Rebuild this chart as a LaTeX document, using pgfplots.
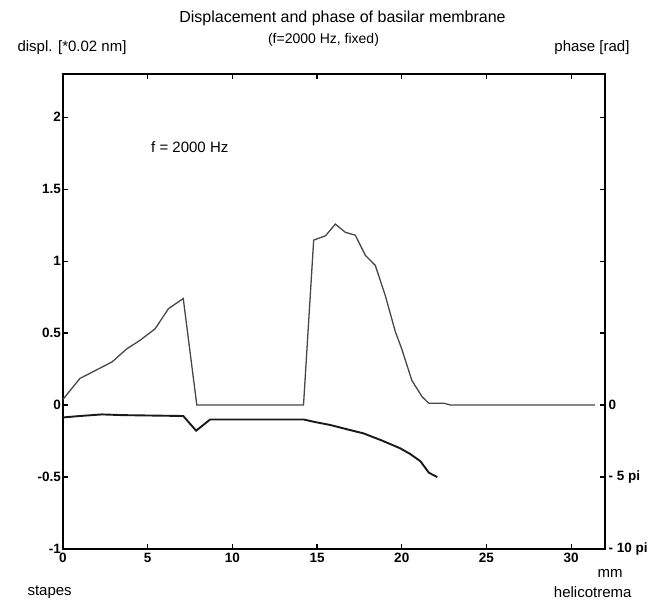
\documentclass[border=0pt]{standalone}
\usepackage{fontspec}
\setmainfont{Liberation Sans}
\usepackage{pgfplots}
\pgfplotsset{compat=1.18}

\newcommand{\lbl}{\fontsize{15}{18}\selectfont}
\newcommand{\tlbl}{\fontsize{13.5}{16}\selectfont\bfseries}

\begin{document}
\begin{tikzpicture}
% left axis: displacement
\begin{axis}[
    name=main,
    scale only axis,
    width=542pt, height=475pt,
    xmin=0, xmax=32,
    ymin=-1, ymax=2.3,
    xtick={0,5,10,15,20,25,30},
    xticklabels={0,5,10,15,20,25,30},
    ytick={-1,-0.5,0,0.5,1,1.5,2},
    yticklabels={-1,-0.5,0,0.5,1,1.5,2},
    xtick pos=both, ytick pos=both,
    tick align=inside,
    major tick length=5pt,
    tick style={black, line width=1.2pt},
    axis line style={black, line width=1.8pt},
    ticklabel style={font=\tlbl},
    yticklabel style={xshift=1.5pt},
    xticklabel style={yshift=-1pt},
    clip=false,
]
\addplot[color=black!72, line width=1.3pt] coordinates {
    (0,0.04) (1.0,0.185) (2.9,0.30) (3.76,0.39) (4.55,0.45) (5.44,0.53)
    (6.23,0.67) (7.1,0.74) (7.9,0) (14.2,0) (14.8,1.146) (15.5,1.176)
    (16.08,1.257) (16.67,1.20) (17.26,1.18) (17.85,1.04) (18.44,0.97)
    (19.03,0.76) (19.62,0.51) (20.0,0.39) (20.6,0.17) (21.2,0.058)
    (21.6,0.012) (22.5,0.012) (22.9,0) (31.4,0)
};
\addplot[color=black!90, line width=1.9pt] coordinates {
    (0,-0.086) (1,-0.076) (2.3,-0.065) (3.55,-0.07) (7.1,-0.076)
    (7.86,-0.178) (8.69,-0.1) (14.2,-0.1) (14.8,-0.116) (15.8,-0.139)
    (16.96,-0.174) (17.75,-0.197) (18.8,-0.245) (19.9,-0.30) (20.5,-0.34)
    (21.1,-0.39) (21.6,-0.47) (22.1,-0.50)
};
\node[anchor=west, font=\lbl] at (axis cs:5.0,1.79) {f = 2000 Hz};
\end{axis}

% right axis: phase
\begin{axis}[
    scale only axis,
    width=542pt, height=475pt,
    xmin=0, xmax=32,
    ymin=-1, ymax=2.3,
    hide x axis,
    axis y line*=right,
    ytick={-1,-0.5,0},
    yticklabels={- 10 pi,- 5 pi,0},
    tick align=inside,
    major tick length=5pt,
    tick style={black, line width=1.2pt},
    axis line style={black, line width=1.8pt, -},
    ticklabel style={font=\tlbl},
]
\end{axis}

% titles and side labels (origin = lower left corner of the axis box)
\node[font=\fontsize{16}{19}\selectfont] at (279.5pt,531pt) {Displacement and phase of basilar membrane};
\node[font=\fontsize{14}{17}\selectfont] at (260.5pt,509pt) {(f=2000 Hz, fixed)};
\node[anchor=west, font=\lbl] at (-49pt,501pt) {displ. [*0.02 nm]};
\node[anchor=east, font=\lbl] at (570pt,501pt) {phase [rad]};
\node[anchor=west, font=\lbl] at (-39pt,-43pt) {stapes};
\node[anchor=west, font=\lbl] at (531pt,-24pt) {mm};
\node[anchor=east, font=\lbl] at (572pt,-43pt) {helicotrema};
\path (-63pt,-56pt) rectangle (595pt,549pt);
\end{tikzpicture}
\end{document}
